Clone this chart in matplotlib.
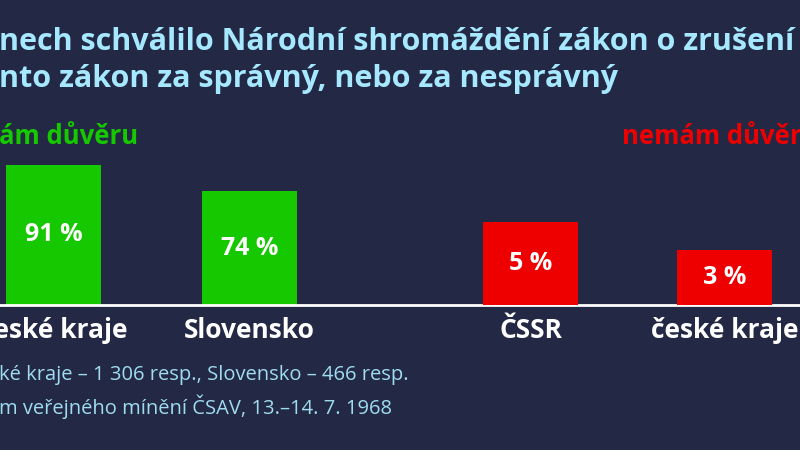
import matplotlib
matplotlib.use("Agg")
import matplotlib.pyplot as plt

categories = ["české kraje", "Slovensko", "ČSSR", "české kraje"]
trust_values = [91, 74]
distrust_values = [5, 3.3]
labels_trust = ["91 %", "74 %"]
labels_distrust = ["5 %", "3 %"]

BG = "#232944"
GREEN = "#16c800"
RED = "#ee0000"
CYAN = "#a6e8ff"
FOOT = "#9fdcf0"
plt.rcParams['font.family'] = ['Open Sans', 'DejaVu Sans']

W, H = 800, 450
fig = plt.figure(figsize=(8, 4.5), dpi=100, facecolor=BG)
ax = fig.add_axes([0, 0, 1, 1])
ax.set_facecolor(BG)
unit = 196.0
x0 = 53.5
ax.set_xlim(-x0 / unit, (W - x0) / unit)
ax.set_ylim(-145 / 1.54, 305 / 1.54)
ax2 = ax.twinx()
ax2.set_ylim(-145 / 16.6, 305 / 16.6)
for a in (ax, ax2):
    a.axis("off")

pos = [0, 1, 2.434, 3.424]
bw = 95 / unit
b1 = ax.bar(pos[:2], trust_values, width=bw, color=GREEN)
b2 = ax2.bar(pos[2:], distrust_values, width=bw, color=RED)
ax.axhline(0, color="white", lw=2)

for rect, lab in zip(b1, labels_trust):
    ax.text(rect.get_x() + rect.get_width() / 2, rect.get_height() / 2, lab,
            ha="center", va="center", color="white", fontsize=18, fontweight="bold")
for rect, lab in zip(b2, labels_distrust):
    ax2.text(rect.get_x() + rect.get_width() / 2, rect.get_height() / 2, lab,
             ha="center", va="center", color="white", fontsize=18, fontweight="bold")
for p, c in zip(pos, categories):
    ax.text(p, -26 / 1.54, c, ha="center", va="center", color="white",
            fontsize=19, fontweight="bold")

def ft(xp, yp, s, **kw):
    fig.text(xp / W, 1 - yp / H, s, va="center", **kw)

ft(-1, 42, "nech schválilo Národní shromáždění zákon o zrušení", color=CYAN, fontsize=22, fontweight="bold")
ft(-1, 79, "nto zákon za správný, nebo za nesprávný", color=CYAN, fontsize=22, fontweight="bold")
ft(-1, 136, "ám důvěru", color=GREEN, fontsize=18.5, fontweight="bold")
ft(622, 136, "nemám důvěru", color=RED, fontsize=18.5, fontweight="bold")
ft(-1, 375, "ké kraje – 1 306 resp., Slovensko – 466 resp.", color=FOOT, fontsize=14.5)
ft(-1, 407, "m veřejného mínění ČSAV, 13.–14. 7. 1968", color=FOOT, fontsize=14.5)

fig.savefig("out.png", dpi=100, facecolor=BG)
